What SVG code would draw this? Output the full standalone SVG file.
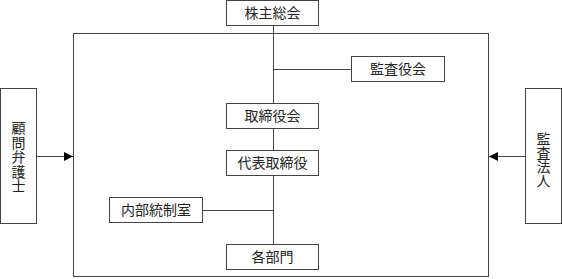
<svg xmlns="http://www.w3.org/2000/svg" width="562" height="279" viewBox="0 0 562 279">
<style>
.b{fill:#fff;stroke:#444;stroke-width:1}
.t{font-family:"Liberation Serif","Noto Sans CJK JP",serif;font-size:14px;fill:#222;text-anchor:middle}
.l{stroke:#444;stroke-width:1;fill:none}
</style>
<defs>
<marker id="ah" markerWidth="9" markerHeight="9" refX="9" refY="4.5" orient="auto" markerUnits="userSpaceOnUse">
<path d="M0,0 L9,4.5 L0,9 Z" fill="#000"/>
</marker>
</defs>
<rect class="l" x="73.500" y="33.500" width="415" height="243"/>
<g id="connectors">
<line class="l" x1="273.500" y1="25" x2="273.500" y2="244"/>
<line class="l" x1="273.500" y1="69.500" x2="351" y2="69.500"/>
<line class="l" x1="202" y1="210.500" x2="273.500" y2="210.500"/>
<line class="l" x1="37" y1="156.500" x2="73" y2="156.500" marker-end="url(#ah)"/>
<line class="l" x1="525" y1="156.500" x2="489" y2="156.500" marker-end="url(#ah)"/>
</g>
<g id="kabunushi"><rect class="b" x="226.500" y="0.500" width="92" height="25"/><text class="t" x="272.500" y="18">株主総会</text></g>
<g id="kansayakukai"><rect class="b" x="351.500" y="56.500" width="93" height="25"/><text class="t" x="398" y="74">監査役会</text></g>
<g id="torishimariyakukai"><rect class="b" x="226.500" y="103.500" width="92" height="25"/><text class="t" x="272.500" y="121">取締役会</text></g>
<g id="daihyo"><rect class="b" x="226.500" y="150.500" width="92" height="25"/><text class="t" x="272.500" y="168">代表取締役</text></g>
<g id="naibu"><rect class="b" x="109.500" y="197.500" width="93" height="25"/><text class="t" x="156" y="215">内部統制室</text></g>
<g id="kakubumon"><rect class="b" x="226.500" y="244.500" width="92" height="25"/><text class="t" x="272.500" y="262">各部門</text></g>
<g id="komon"><rect class="b" x="0.500" y="88.500" width="36" height="135"/>
<text class="t" x="18.500"><tspan x="18.500" y="133">顧</tspan><tspan x="18.500" y="148">問</tspan><tspan x="18.500" y="162">弁</tspan><tspan x="18.500" y="177">護</tspan><tspan x="18.500" y="191">士</tspan></text></g>
<g id="kansahojin"><rect class="b" x="525.500" y="88.500" width="36" height="135"/>
<text class="t" x="543.500"><tspan x="543.500" y="144">監</tspan><tspan x="543.500" y="158">査</tspan><tspan x="543.500" y="172">法</tspan><tspan x="543.500" y="186">人</tspan></text></g>
</svg>
